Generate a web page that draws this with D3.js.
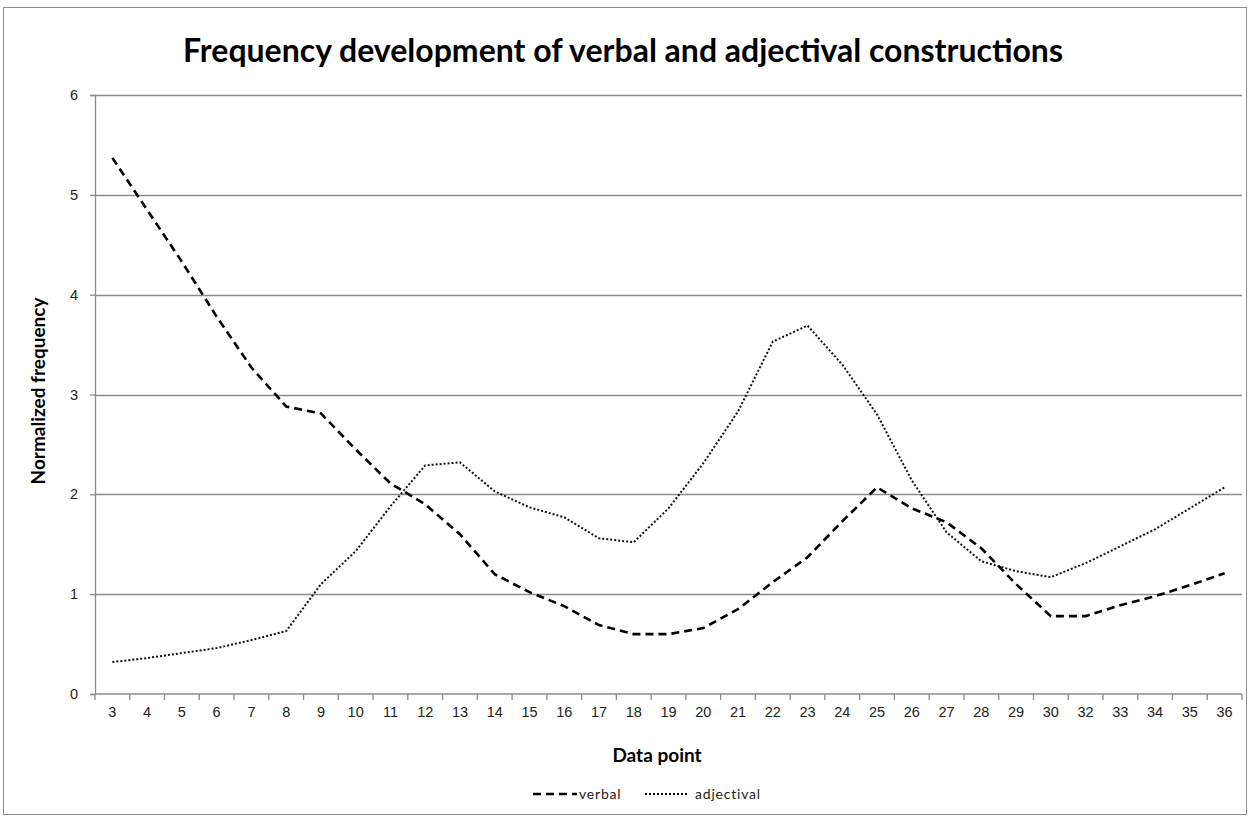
<!DOCTYPE html>
<html>
<head>
<meta charset="utf-8">
<script src="https://cdn.jsdelivr.net/npm/d3@7"></script>
<style>
  body { margin: 0; background: #fff; }
  svg { display: block; font-family: Lato, "Open Sans", sans-serif; }
  .grid line { stroke: #8c8c8c; stroke-width: 1.3; }
  .axis path, .axis line { stroke: #8c8c8c; stroke-width: 1.3; }
  .axis text { fill: #222; font-size: 14.5px; }
</style>
</head>
<body>
<svg></svg>
<script>
"use strict";

var categories = ["3", "4", "5", "6", "7", "8", "9", "10", "11", "12", "13", "14", "15", "16",
  "17", "18", "19", "20", "21", "22", "23", "24", "25", "26", "27", "28", "29", "30",
  "32", "33", "34", "35", "36"];

var verbal = [5.37, 4.85, 4.33, 3.78, 3.27, 2.88, 2.81, 2.45, 2.11, 1.9, 1.6, 1.2, 1.02, 0.88,
  0.69, 0.6, 0.6, 0.66, 0.85, 1.12, 1.37, 1.73, 2.07, 1.86, 1.72, 1.46, 1.1, 0.78,
  0.78, 0.89, 0.98, 1.09, 1.21];

var adjectival = [0.32, 0.36, 0.41, 0.46, 0.54, 0.63, 1.1, 1.43, 1.88, 2.29, 2.32, 2.03, 1.87, 1.77,
  1.56, 1.52, 1.86, 2.31, 2.83, 3.53, 3.69, 3.3, 2.8, 2.14, 1.62, 1.33, 1.23, 1.17,
  1.31, 1.48, 1.65, 1.86, 2.07];

var yTicks = [0, 1, 2, 3, 4, 5, 6];

var width = 1250, height = 818;
var margin = { top: 95, right: 8, bottom: 124, left: 95 };

var svg = d3.select("svg").attr("width", width).attr("height", height);

// outer chart border
svg.append("rect")
  .attr("x", 3.5).attr("y", 7.5)
  .attr("width", 1243).attr("height", 807)
  .attr("fill", "none").attr("stroke", "#8c8c8c").attr("stroke-width", 1);

var x = d3.scaleBand().domain(categories).range([margin.left, width - margin.right]);
var y = d3.scaleLinear().domain([0, 6]).range([height - margin.bottom, margin.top]);

// horizontal gridlines
svg.append("g").attr("class", "grid")
  .selectAll("line").data(yTicks.slice(1)).enter().append("line")
  .attr("x1", margin.left).attr("x2", width - margin.right)
  .attr("y1", function (d) { return Math.round(y(d)) + 0.5; })
  .attr("y2", function (d) { return Math.round(y(d)) + 0.5; });

// y axis
svg.append("g").attr("class", "axis")
  .attr("transform", "translate(" + margin.left + ",0)")
  .call(d3.axisLeft(y).tickValues(yTicks).tickSize(5).tickPadding(12).tickFormat(d3.format("d")));

// x axis, ticks sit between categories
var xAxisG = svg.append("g").attr("class", "axis")
  .attr("transform", "translate(0," + (height - margin.bottom) + ")")
  .call(d3.axisBottom(x).tickSize(0).tickPadding(13));
xAxisG.select(".domain").attr("d", "M" + margin.left + ",0H" + (width - margin.right));

var boundaries = categories.map(function (c) { return x(c); }).concat([width - margin.right]);
xAxisG.selectAll(".sep").data(boundaries).enter().append("line")
  .attr("class", "sep")
  .attr("x1", function (d) { return d; }).attr("x2", function (d) { return d; })
  .attr("y1", 0).attr("y2", 6);

var line = d3.line()
  .x(function (d, i) { return x(categories[i]) + x.bandwidth() / 2; })
  .y(function (d) { return y(d); });

svg.append("path").datum(verbal)
  .attr("d", line)
  .attr("fill", "none").attr("stroke", "#000")
  .attr("stroke-width", 2.6).attr("stroke-dasharray", "8,5");

svg.append("path").datum(adjectival)
  .attr("d", line)
  .attr("fill", "none").attr("stroke", "#111")
  .attr("stroke-width", 2).attr("stroke-dasharray", "2,2");

// title
svg.append("text")
  .attr("x", 623).attr("y", 62)
  .attr("text-anchor", "middle")
  .attr("font-size", "32px").attr("font-weight", "bold")
  .text("Frequency development of verbal and adjectival constructions");

// axis titles
svg.append("text")
  .attr("x", 657).attr("y", 762)
  .attr("text-anchor", "middle")
  .attr("font-size", "19px").attr("font-weight", "bold")
  .text("Data point");

svg.append("text")
  .attr("transform", "translate(45,391) rotate(-90)")
  .attr("text-anchor", "middle")
  .attr("font-size", "19px").attr("font-weight", "bold")
  .text("Normalized frequency");

// legend
var legend = [
  { name: "verbal", dash: "8,5", w: 2.6, x: 533, tx: 46 },
  { name: "adjectival", dash: "2,2", w: 2, x: 645, tx: 50 }
];
var lg = svg.append("g").selectAll("g").data(legend).enter().append("g")
  .attr("transform", function (d) { return "translate(" + d.x + ",794)"; });
lg.append("line")
  .attr("x1", 0).attr("x2", 44)
  .attr("stroke", "#000")
  .attr("stroke-width", function (d) { return d.w; })
  .attr("stroke-dasharray", function (d) { return d.dash; });
lg.append("text")
  .attr("x", function (d) { return d.tx; })
  .attr("y", 5)
  .attr("font-size", "14px").attr("fill", "#222")
  .attr("letter-spacing", "0.8px")
  .text(function (d) { return d.name; });
</script>
</body>
</html>
